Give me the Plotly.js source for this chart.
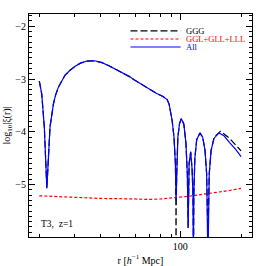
<!DOCTYPE html>
<html><head><meta charset="utf-8">
<script src="https://cdn.plot.ly/plotly-3.0.1.min.js"></script>
<style>html,body{margin:0;padding:0;background:#fff}#c{width:266px;height:266px}</style>
</head><body><div id="c"></div>
<script>
// All (blue)
const rAll = [20.0,20.56,21.18,21.6,21.8,22.16,22.6,23.5,24.1,24.9,25.8,26.8,28.3,30.1,32,34.4,37.5,40.9,44,47.6,50.5,53.4,56,58.7,64,71,76,82,86,88,89.5,91,93,94.5,95.2,96,97.2,99,101,104,106.5,108.3,109.3,110.5,112.5,114.3,115.5,116,116.6,118,120.5,125,129,132.5,135,137,139,142,147,155.6,165,175,188,200];
const logAll = [-3.04,-3.28,-3.91,-4.54,-5.07,-4.54,-3.91,-3.47,-3.30,-3.15,-3.03,-2.93,-2.84,-2.76,-2.70,-2.66,-2.655,-2.69,-2.745,-2.81,-2.855,-2.90,-2.955,-3.01,-3.10,-3.20,-3.27,-3.33,-3.39,-3.48,-3.6,-3.78,-4.1,-4.6,-5.3,-4.7,-4.1,-3.85,-3.75,-3.85,-4.2,-4.8,-5.82,-4.6,-4.38,-4.7,-5.2,-6.5,-5.2,-4.5,-4.15,-4.02,-4.1,-4.35,-4.8,-6.5,-4.8,-4.35,-4.12,-4.02,-4.08,-4.2,-4.33,-4.47];
// GGG (black)
const rGGG = [20.0,20.56,21.18,21.6,21.8,22.16,22.6,23.5,24.1,24.9,25.8,26.8,28.3,30.1,32,34.4,37.5,40.9,44,47.6,50.5,53.4,56,58.7,64,71,76,82,86,88,89.5,91,93,94.5,95.1,95.2,95.3,96,97.2,99,101,104,106.5,108.3,109.3,110.5,112.5,114.3,115.5,115.9,116,116.1,116.6,118,120.5,125,129,132.5,135,136.9,137,137.1,139,142,147,158,175,188,200];
const logGGG = [-3.04,-3.28,-3.91,-4.54,-5.07,-4.54,-3.91,-3.47,-3.30,-3.15,-3.03,-2.93,-2.84,-2.76,-2.70,-2.66,-2.655,-2.69,-2.745,-2.81,-2.855,-2.90,-2.955,-3.01,-3.10,-3.20,-3.27,-3.33,-3.39,-3.48,-3.6,-3.78,-4.1,-4.6,-5.5,-7.5,-5.5,-4.7,-4.1,-3.85,-3.75,-3.85,-4.2,-4.8,-5.82,-4.6,-4.38,-4.7,-5.2,-5.9,-7.5,-5.9,-5.2,-4.5,-4.15,-4.02,-4.1,-4.35,-4.8,-5.9,-7.5,-5.9,-4.8,-4.35,-4.1,-3.99,-4.12,-4.24,-4.36];
// GGL+GLL+LLL (red)
const rLin = [20,30,40,58.7,70,80,95,110,130,150,175,200];
const logLin = [-5.21,-5.24,-5.26,-5.27,-5.28,-5.27,-5.25,-5.22,-5.18,-5.15,-5.11,-5.07];

const legendNames = ['GGG','GGL+GLL+LLL','All'];
const legendColors = ['#000000','#ff0000','#0000ff'];
const legendDash = ['7px,3px','3px,2px','solid'];

const xMajor = [100];
const xMajorText = ['100'];
const xMinor = [20,30,40,50,60,70,80,90,200];

const font = 'Liberation Serif, DejaVu Serif, serif';

const traces = [
  {x:rGGG, y:logGGG, mode:'lines', line:{color:legendColors[0], width:1.2, dash:legendDash[0]}, showlegend:false},
  {x:rLin, y:logLin, mode:'lines', line:{color:legendColors[1], width:1.2, dash:legendDash[1]}, showlegend:false},
  {x:rAll, y:logAll, mode:'lines', line:{color:legendColors[2], width:1.2}, showlegend:false}
];

const shapes = [];
const annotations = [];
const ly = [0.924, 0.888, 0.852];
for (let i=0;i<3;i++){
  shapes.push({type:'line', xref:'paper', yref:'paper', x0:0.455, x1:0.68, y0:ly[i], y1:ly[i],
    line:{color:legendColors[i], width:1.2, dash:legendDash[i]}});
  annotations.push({xref:'paper', yref:'paper', x:0.695, y:ly[i], xanchor:'left', yanchor:'middle',
    text:legendNames[i], showarrow:false, font:{family:font, size:8.5, color:legendColors[i]}});
}
annotations.push({xref:'paper', yref:'paper', x:0.045, y:0.058, xanchor:'left', yanchor:'middle',
  text:'T3,  z=1', showarrow:false, font:{family:font, size:9.5, color:'#000'}});

const layout = {
  width:266, height:266,
  margin:{l:29, r:14, t:14, b:29},
  paper_bgcolor:'#fff', plot_bgcolor:'#fff',
  font:{family:font, size:10, color:'#000'},
  showlegend:false,
  xaxis:{type:'log', range:[1.25,2.355], showgrid:false, zeroline:false,
    showline:true, linecolor:'#000', linewidth:1, mirror:'allticks',
    ticks:'inside', ticklen:6, tickcolor:'#000', tickwidth:1,
    tickmode:'array', tickvals:xMajor, ticktext:xMajorText,
    tickfont:{family:font, size:10},
    minor:{tickmode:'array', tickvals:xMinor, ticks:'inside', ticklen:3, tickcolor:'#000', showgrid:false},
    title:{text:'r [<i>h</i><sup>−1</sup> Mpc]', font:{family:font, size:10}, standoff:5}},
  yaxis:{range:[-5.99,-1.77], showgrid:false, zeroline:false,
    showline:true, linecolor:'#000', linewidth:1, mirror:'allticks',
    ticks:'inside', ticklen:6, tickcolor:'#000', tickwidth:1,
    tickmode:'linear', tick0:-6, dtick:1,
    tickfont:{family:font, size:10},
    minor:{dtick:0.1, ticks:'inside', ticklen:3, tickcolor:'#000', showgrid:false},
    title:{text:'log<sub>10</sub>|ξ(r)|', font:{family:font, size:10}, standoff:2}},
  shapes:shapes, annotations:annotations
};
Plotly.newPlot('c', traces, layout, {staticPlot:true, displayModeBar:false});
</script></body></html>
